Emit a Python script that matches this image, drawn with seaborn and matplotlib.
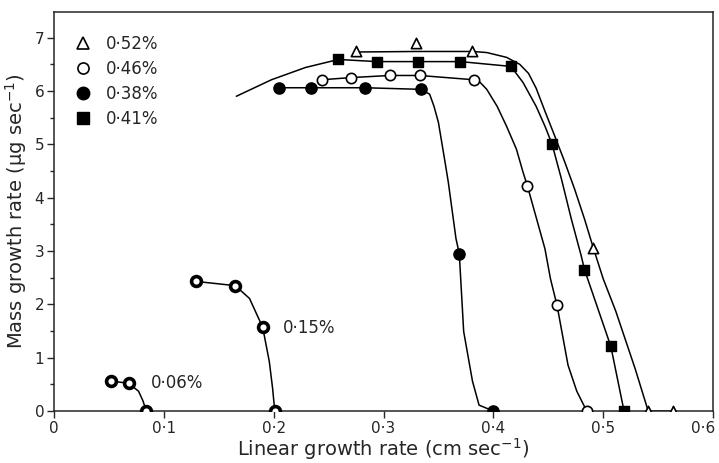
import matplotlib
matplotlib.use("Agg")
import seaborn as sns
from matplotlib import pyplot as plt
from matplotlib.lines import Line2D
from matplotlib.ticker import MultipleLocator
from matplotlib.transforms import ScaledTranslation

tri_x = [0.275, 0.330, 0.381, 0.491, 0.541, 0.564]      # 0.52 %
tri_y = [6.75, 6.90, 6.75, 3.06, 0.0, 0.0]
open_x = [0.244, 0.270, 0.306, 0.333, 0.382, 0.431, 0.458, 0.485]   # 0.46 %
open_y = [6.21, 6.25, 6.29, 6.29, 6.21, 4.22, 1.98, 0.0]
fill_x = [0.205, 0.234, 0.283, 0.334, 0.369, 0.400]     # 0.38 %
fill_y = [6.06, 6.06, 6.06, 6.03, 2.95, 0.0]
sq_x = [0.259, 0.294, 0.331, 0.370, 0.416, 0.4535, 0.483, 0.507, 0.519]  # 0.41 %
sq_y = [6.59, 6.55, 6.55, 6.55, 6.46, 5.00, 2.65, 1.21, 0.0]
p15_x = [0.129, 0.165, 0.190, 0.201]                    # 0.15 %
p15_y = [2.43, 2.35, 1.57, 0.0]
p06_x = [0.052, 0.068, 0.084]                           # 0.06 %
p06_y = [0.56, 0.52, 0.0]

# hand-drawn fitted curves
c52_x = [0.275, 0.330, 0.381, 0.394, 0.412, 0.424, 0.432, 0.439, 0.447, 0.456, 0.465,
         0.474, 0.483, 0.491, 0.500, 0.5115, 0.529, 0.541, 0.564]
c52_y = [6.73, 6.74, 6.74, 6.72, 6.63, 6.50, 6.33, 6.05, 5.62, 5.15, 4.67,
         4.16, 3.60, 3.06, 2.48, 1.87, 0.80, 0.0, 0.0]
c46_x = [0.244, 0.270, 0.306, 0.333, 0.382, 0.388, 0.394, 0.4035, 0.412, 0.421, 0.427,
         0.431, 0.4386, 0.447, 0.452, 0.458, 0.468, 0.476, 0.485]
c46_y = [6.21, 6.25, 6.29, 6.29, 6.21, 6.16, 6.03, 5.71, 5.34, 4.91, 4.48,
         4.22, 3.66, 3.04, 2.48, 1.98, 0.86, 0.37, 0.0]
c38_x = [0.205, 0.234, 0.283, 0.334, 0.342, 0.346, 0.350, 0.353, 0.356, 0.359, 0.366,
         0.369, 0.373, 0.381, 0.387, 0.400]
c38_y = [6.06, 6.06, 6.06, 6.03, 5.94, 5.71, 5.41, 5.04, 4.67, 4.29, 3.23,
         2.95, 1.49, 0.56, 0.11, 0.0]
c41_x = [0.166, 0.198, 0.229, 0.259, 0.294, 0.331, 0.370, 0.416, 0.427, 0.439, 0.447,
         0.4535, 0.462, 0.471, 0.480, 0.483, 0.507, 0.519]
c41_y = [5.90, 6.21, 6.44, 6.59, 6.55, 6.55, 6.55, 6.46, 6.16, 5.71, 5.34,
         5.00, 4.35, 3.60, 2.91, 2.65, 1.21, 0.0]
c15_x = [0.129, 0.165, 0.178, 0.190, 0.196, 0.199, 0.201]
c15_y = [2.43, 2.35, 2.11, 1.57, 0.93, 0.43, 0.0]
c06_x = [0.052, 0.068, 0.077, 0.081, 0.084]
c06_y = [0.56, 0.52, 0.37, 0.19, 0.0]

legend_labels = ["0·52%", "0·46%", "0·38%", "0·41%"]
xtick_vals = [0, 0.1, 0.2, 0.3, 0.4, 0.5, 0.6]
xtick_labels = ["0", "0·1", "0·2", "0·3", "0·4", "0·5", "0·6"]
ytick_vals = [0, 1, 2, 3, 4, 5, 6, 7]

sns.set_style("ticks")
plt.rcParams['font.family'] = ['DejaVu Sans']

fig = plt.figure(figsize=(7.19, 4.63), dpi=100)
ax = fig.add_axes([54 / 719, 52 / 463, 659 / 719, 399 / 463])

for cx, cy in [(c52_x, c52_y), (c46_x, c46_y), (c38_x, c38_y),
               (c41_x, c41_y), (c15_x, c15_y), (c06_x, c06_y)]:
    sns.lineplot(x=cx, y=cy, sort=False, estimator=None, color="black",
                 linewidth=1.1, ax=ax)

sns.scatterplot(x=tri_x, y=tri_y, marker="^", s=55, color="white",
                edgecolor="black", linewidth=1.2, ax=ax, zorder=3)
sns.scatterplot(x=open_x, y=open_y, marker="o", s=55, color="white",
                edgecolor="black", linewidth=1.2, ax=ax, zorder=3)
sns.scatterplot(x=fill_x, y=fill_y, marker="o", s=65, color="black",
                edgecolor="black", linewidth=1, ax=ax, zorder=3)
sns.scatterplot(x=sq_x, y=sq_y, marker="s", s=55, color="black",
                edgecolor="black", linewidth=1, ax=ax, zorder=3)
sns.scatterplot(x=p15_x + p06_x, y=p15_y + p06_y, marker="o", s=50,
                color="white", edgecolor="black", linewidth=2.6, ax=ax, zorder=3)

ax.text(0.208, 1.55, "0·15%", fontsize=12, va="center")
ax.text(0.088, 0.52, "0·06%", fontsize=12, va="center")

handles = [
    Line2D([], [], ls="none", marker="^", ms=8, mfc="white", mec="black", mew=1.2),
    Line2D([], [], ls="none", marker="o", ms=8, mfc="white", mec="black", mew=1.2),
    Line2D([], [], ls="none", marker="o", ms=9, mfc="black", mec="black"),
    Line2D([], [], ls="none", marker="s", ms=8, mfc="black", mec="black"),
]
ax.legend(handles, legend_labels, loc="upper left", frameon=False, fontsize=12,
          bbox_to_anchor=(0.008, 0.98), handletextpad=0.9, labelspacing=0.42,
          handlelength=1.0)

ax.set_xlim(0, 0.6)
ax.set_ylim(0, 7.48)
ax.set_xticks(xtick_vals)
ax.set_xticklabels(xtick_labels)
ax.set_yticks(ytick_vals)
ax.yaxis.set_minor_locator(MultipleLocator(0.5))
ax.tick_params(direction="out", length=5, width=1, labelsize=11, pad=2)
ax.tick_params(which="minor", direction="out", length=3, width=1)
for s in ax.spines.values():
    s.set_linewidth(1.1)
    s.set_visible(True)

# keep the last x tick label inside the canvas
last = ax.get_xticklabels()[-1]
last.set_transform(last.get_transform() + ScaledTranslation(-7 / 72, 0, fig.dpi_scale_trans))

ax.set_xlabel("Linear growth rate (cm sec$^{-1}$)", fontsize=14, labelpad=0)
ax.set_ylabel("Mass growth rate (μg sec$^{-1}$)", fontsize=14, labelpad=4)

plt.savefig("out.png", dpi=100)
